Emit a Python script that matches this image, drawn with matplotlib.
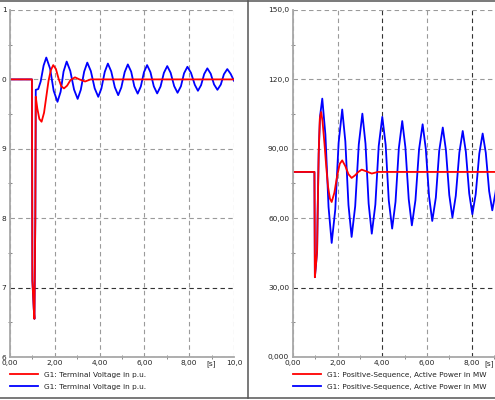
import matplotlib
matplotlib.use("Agg")
import matplotlib.pyplot as plt
from matplotlib.lines import Line2D
from matplotlib.transforms import offset_copy

# ---- left plot: G1 terminal voltage (p.u.) ----
volt_red_t = [0.0, 0.98, 1.0, 1.03, 1.06, 1.09, 1.13, 1.15, 1.22, 1.31, 1.41, 1.52,
              1.62, 1.72, 1.82, 1.93, 2.05, 2.17, 2.29, 2.41, 2.55, 2.7, 2.9,
              3.1, 3.35, 3.6, 10.0]
volt_red_v = [1.0, 1.0, 0.71, 0.69, 0.67, 0.655, 0.80, 0.975, 0.958, 0.943, 0.939, 0.952,
              0.975, 0.998, 1.013, 1.0206, 1.015, 1.001, 0.990, 0.987, 0.991, 0.999, 1.003,
              1.0, 0.997, 1.0, 1.0]

volt_blue_t = [0.0, 0.98, 1.0, 1.03, 1.06, 1.09, 1.13, 1.15, 1.26, 1.37, 1.50,
               1.62, 1.79, 1.95, 2.12, 2.26, 2.39, 2.53, 2.69, 2.86, 3.02, 3.16, 3.31,
               3.45, 3.61, 3.78, 3.94, 4.08, 4.23, 4.37, 4.52, 4.68, 4.83, 4.97, 5.12,
               5.26, 5.41, 5.55, 5.70, 5.84, 5.98, 6.12, 6.27, 6.42, 6.57, 6.72, 6.87,
               7.02, 7.17, 7.33, 7.48, 7.63, 7.77, 7.92, 8.08, 8.25, 8.39, 8.53, 8.67,
               8.81, 8.96, 9.11, 9.26, 9.41, 9.55, 9.70, 9.85, 10.0]
volt_blue_v = [1.0, 1.0, 0.71, 0.69, 0.67, 0.655, 0.80, 0.985, 0.986, 0.997, 1.020,
               1.0315, 1.0155, 0.9836, 0.9677, 0.9822, 1.0112, 1.0257, 1.0123, 0.9853,
               0.9719, 0.985, 1.0111, 1.0242, 1.0119, 0.9872, 0.9749, 0.9869, 1.0108,
               1.0228, 1.0114, 0.9887, 0.9773, 0.9884, 1.0105, 1.0216, 1.0111, 0.990,
               0.9795, 0.9898, 1.0103, 1.0206, 1.0104, 0.990, 0.9798, 0.9897, 1.0094,
               1.0192, 1.0096, 0.9903, 0.9807, 0.9901, 1.0088, 1.0182, 1.0095, 0.9922,
               0.9836, 0.9917, 1.0078, 1.0159, 1.0082, 0.9927, 0.985, 0.9925, 1.0074,
               1.0149, 1.008, 0.998]

# ---- right plot: G1 positive-sequence active power (MW) ----
pow_red_t = [0.0, 0.97, 0.99, 1.04, 1.09, 1.11, 1.16, 1.21, 1.27, 1.33, 1.42, 1.5,
             1.58, 1.66, 1.74, 1.86, 1.98, 2.1, 2.21, 2.35, 2.49, 2.63, 2.78, 2.93,
             3.08, 3.3, 3.53, 3.8, 10.0]
pow_red_v = [80, 80, 34.5, 40, 46, 60, 88, 103, 105.9, 102, 92, 82,
             73.5, 68.5, 67, 71, 78, 83.5, 85, 82.5, 79, 77.4, 78.5, 80,
             81, 80.2, 79.3, 80, 80]

pow_blue_t = [0.0, 0.97, 0.99, 1.04, 1.09, 1.11, 1.16, 1.22,
              1.32, 1.46, 1.60, 1.74, 1.90, 2.05, 2.21, 2.35, 2.49, 2.63, 2.79, 2.95,
              3.11, 3.25, 3.39, 3.53, 3.69, 3.84, 4.00, 4.15, 4.29, 4.44, 4.59, 4.74,
              4.89, 5.03, 5.18, 5.32, 5.48, 5.64, 5.80, 5.94, 6.09, 6.23, 6.39, 6.54,
              6.70, 6.84, 6.99, 7.13, 7.28, 7.44, 7.59, 7.73, 7.88, 8.02, 8.17, 8.33,
              8.48, 8.62, 8.77, 8.91, 9.06, 9.22, 9.37, 9.51, 9.66, 9.80, 10.0]
pow_blue_v = [80, 80, 34.5, 40, 46, 60, 88, 104,
              111.7, 96.1, 64.9, 49.3, 63.7, 92.6, 107.0, 93.2, 65.7, 51.9, 65.2, 91.9,
              105.2, 92.2, 66.3, 53.3, 65.9, 91.2, 103.8, 91.7, 67.6, 55.5, 67.1, 90.4,
              102.0, 90.7, 68.2, 56.9, 67.8, 89.7, 100.6, 90.15, 69.25, 58.8, 68.9, 89.1,
              99.2, 89.5, 70.0, 60.3, 69.65, 88.35, 97.7, 88.7, 70.7, 61.7, 70.4, 87.9,
              96.6, 88.3, 71.7, 63.4, 71.4, 87.5, 95.5, 87.8, 72.5, 64.8, 75.0]

x_ticks = [0, 2, 4, 6, 8, 10]
volt_x_labels = ["0,00", "2,00", "4,00", "6,00", "8,00", "10,0"]
pow_x_labels = ["0,00", "2,00", "4,00", "6,00", "8,00", ""]
volt_ticks = [0.6, 0.7, 0.8, 0.9, 1.0, 1.1]
volt_labels = ["6", "7", "8", "9", "0", "1"]
pow_ticks = [0, 30, 60, 90, 120, 150]
pow_labels = ["0,000", "30,00", "60,00", "90,00", "120,0", "150,0"]

volt_name = "G1: Terminal Voltage in p.u."
pow_name = "G1: Positive-Sequence, Active Power in MW"

RED = "#ff0000"
BLUE = "#0000ff"
FS = 5.3

fig = plt.figure(figsize=(4.95, 4.0), dpi=100)
ax1 = fig.add_axes([10 / 495, 43 / 400, 224 / 495, 347 / 400])
ax2 = fig.add_axes([292.7 / 495, 43 / 400, 224 / 495, 347 / 400])


def style(ax, xlabels, yticks, ylabels, ylim, dark_x, dark_y, unit_x, unit_ha):
    ax.set_xlim(0, 10)
    ax.set_ylim(*ylim)
    ax.set_xticks(x_ticks)
    ax.set_xticklabels(xlabels)
    ax.set_xticks([1, 3, 5, 7, 9], minor=True)
    ax.set_yticks(yticks)
    ax.set_yticklabels(ylabels)
    step = yticks[1] - yticks[0]
    ax.set_yticks([y + step / 2 for y in yticks[:-1]], minor=True)
    ax.tick_params(which="major", length=0, pad=2.5, labelsize=FS, colors="#222222")
    ax.tick_params(which="minor", length=3, width=0.7, direction="inout", color="#888888")
    ax.grid(True, which="major", color="#9a9a9a", ls=(0, (4, 3)), lw=0.8)
    for i in dark_x:
        ax.get_xgridlines()[i].set_color("#333333")
    for i in dark_y:
        ax.get_ygridlines()[i].set_color("#333333")
    for s in ["top", "right"]:
        ax.spines[s].set_visible(False)
    for s in ["left", "bottom"]:
        ax.spines[s].set_color("#a8a8a8")
        ax.spines[s].set_linewidth(1.3)
    trans = offset_copy(ax.get_xaxis_transform(), fig=fig, y=-2.5, units="points")
    ax.text(unit_x, 0, "[s]", transform=trans, ha=unit_ha, va="top", fontsize=FS, color="#222222")


def legend(ax, handles, name):
    ax.legend(handles, [name, name], loc="upper left", bbox_to_anchor=(0, -0.042),
              frameon=False, fontsize=FS, handlelength=3.8, handletextpad=0.8,
              borderpad=0, borderaxespad=0, labelspacing=0.8, labelcolor="#222222")


# left
b1, = ax1.plot(volt_blue_t, volt_blue_v, color=BLUE, lw=1.3)
r1, = ax1.plot(volt_red_t, volt_red_v, color=RED, lw=1.3)
style(ax1, volt_x_labels, volt_ticks, volt_labels, (0.6, 1.1), [], [1], 9, "center")
legend(ax1, [r1, b1], volt_name)

# right
b2, = ax2.plot(pow_blue_t, pow_blue_v, color=BLUE, lw=1.3)
r2, = ax2.plot(pow_red_t, pow_red_v, color=RED, lw=1.3)
style(ax2, pow_x_labels, pow_ticks, pow_labels, (0, 150), [2, 4], [1], 8.98, "right")
legend(ax2, [r2, b2], pow_name)

# panel frame lines
for xs, ys in [([0, 1], [1 - 1 / 400, 1 - 1 / 400]),
               ([0, 1], [2 / 400, 2 / 400]),
               ([247.7 / 495, 247.7 / 495], [2 / 400, 1 - 1 / 400])]:
    fig.add_artist(Line2D(xs, ys, transform=fig.transFigure, color="#555555", lw=1.1))

fig.savefig("out.png", dpi=100)
